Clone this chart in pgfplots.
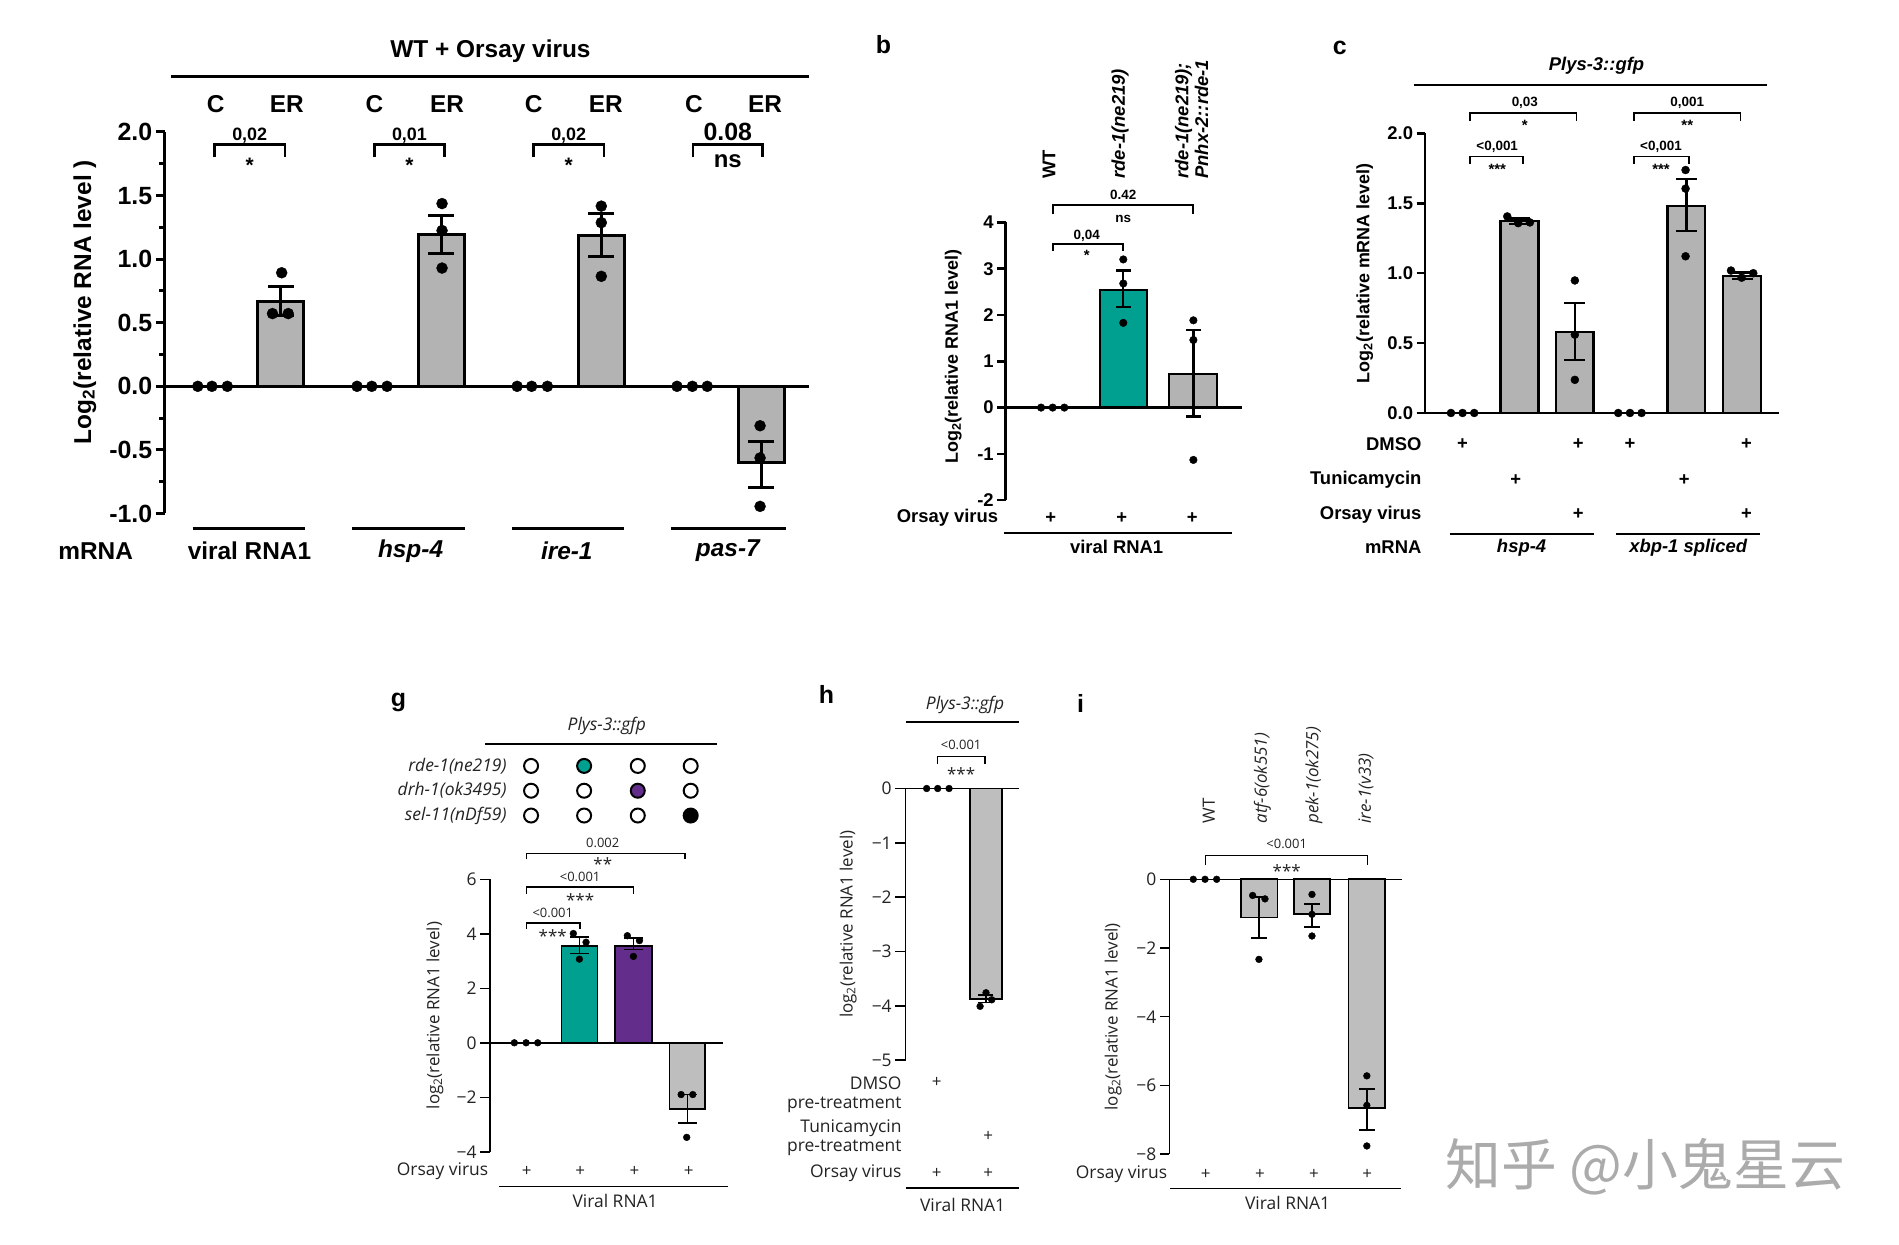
\documentclass[border=0pt]{standalone}
\usepackage{fontspec}
\setmainfont{Liberation Sans}
\newfontfamily\nat{Open Sans}
\newfontfamily\cjk{Noto Sans CJK SC}
\usepackage{pgfplots}
\pgfplotsset{compat=1.18}
\definecolor{barA}{RGB}{179,179,179}
\definecolor{barG}{RGB}{190,190,190}
\definecolor{tealc}{RGB}{0,160,145}
\definecolor{purp}{RGB}{99,45,140}
\definecolor{txt}{RGB}{35,35,35}
\newcommand\fs[1]{\fontsize{#1}{#1}\selectfont}
\newcommand\brk[5]{\draw[line width=#5] (#1,#4) -- (#1,#3) -- (#2,#3) -- (#2,#4);}
\pgfplotsset{panel/.style={anchor=south west, scale only axis, clip=false,
  axis x line=none, axis y line=left, axis line style={-}, xtick=\empty,
  tick align=outside, minor tick num=0}}
\begin{document}
\begin{tikzpicture}
\useasboundingbox (0,0) rectangle (1899bp,1245bp);
\fill[white] (0,0) rectangle (1899bp,1245bp);

%% ---------------- panel a
\begin{axis}[panel, at={(164.7bp,731.5bp)}, width=644.3bp, height=381.5bp,
 xmin=136, xmax=668, ymin=-1, ymax=2,
 y axis line style={-, line width=3.2bp},
 ytick={-1,-0.5,0,0.5,1,1.5,2}, yticklabels={-1.0,-0.5,0.0,0.5,1.0,1.5,2.0},
 minor ytick={-0.75,-0.25,0.25,0.75,1.25,1.75},
 major tick length=9bp, minor tick length=5.5bp,
 every tick/.style={black, line width=3bp},
 yticklabel style={font=\fs{25}\bfseries}]
\draw[line width=3.2bp] (136,0) -- (668,0);
\addplot[ybar, bar width=38, bar shift=0, fill=barA, draw=black, line width=3bp]
 coordinates {(232,0.67) (364.3,1.194) (496.5,1.186) (628.7,-0.6)};
\addplot[black, line width=3bp, mark=-, mark size=13bp] coordinates {(232,0.554) (232,0.786)};
\addplot[black, line width=3bp, mark=-, mark size=13bp] coordinates {(364.3,1.048) (364.3,1.346)};
\addplot[black, line width=3bp, mark=-, mark size=13bp] coordinates {(496.5,1.023) (496.5,1.358)};
\addplot[black, line width=3bp, mark=-, mark size=13bp] coordinates {(628.7,-0.431) (628.7,-0.794)};
\addplot[only marks, mark=*, mark size=5.5bp, black] coordinates {
 (163.3,0) (175,0) (187.7,0) (294.8,0) (307,0) (319.6,0)
 (427,0) (439,0) (452,0) (559,0) (571.7,0) (584,0)
 (232.6,0.893) (225,0.572) (238,0.572)
 (365,1.437) (365,1.225) (365,0.93)
 (496.5,1.417) (496.5,1.287) (496.5,0.865)
 (627.6,-0.31) (627.6,-0.563) (627.6,-0.944)};
\node[font=\fs{24.5}\bfseries] at (405,2.634) {WT + Orsay virus};
\draw[line width=2.5bp] (141.5,2.437) -- (668,2.437);
\node[font=\fs{24.5}\bfseries] at (178,2.22) {C};
\node[font=\fs{24.5}\bfseries] at (236.8,2.22) {ER};
\node[font=\fs{24.5}\bfseries] at (309.1,2.22) {C};
\node[font=\fs{24.5}\bfseries] at (369.2,2.22) {ER};
\node[font=\fs{24.5}\bfseries] at (440.6,2.22) {C};
\node[font=\fs{24.5}\bfseries] at (500.3,2.22) {ER};
\node[font=\fs{24.5}\bfseries] at (573,2.22) {C};
\node[font=\fs{24.5}\bfseries] at (631.8,2.22) {ER};
\brk{177.2}{235.2}{1.90}{1.80}{2.5bp}
\brk{309.1}{367.1}{1.90}{1.80}{2.5bp}
\brk{440.6}{498.6}{1.90}{1.80}{2.5bp}
\brk{572.1}{629.7}{1.90}{1.80}{2.5bp}
\node[font=\fs{18}\bfseries] at (206.2,1.97) {0,02};
\node[font=\fs{21}\bfseries] at (206.2,1.74) {*};
\node[font=\fs{18}\bfseries] at (338.1,1.97) {0,01};
\node[font=\fs{21}\bfseries] at (338.1,1.74) {*};
\node[font=\fs{18}\bfseries] at (469.6,1.97) {0,02};
\node[font=\fs{21}\bfseries] at (469.6,1.74) {*};
\node[font=\fs{25}\bfseries] at (600.9,2.0) {0.08};
\node[font=\fs{24}\bfseries] at (600.9,1.77) {ns};
\draw[line width=2.5bp] (159,-1.118) -- (251.5,-1.118);
\draw[line width=2.5bp] (290.6,-1.118) -- (383.9,-1.118);
\draw[line width=2.5bp] (423,-1.118) -- (515,-1.118);
\draw[line width=2.5bp] (554,-1.118) -- (648.6,-1.118);
\node[font=\fs{24.5}\bfseries] at (79,-1.296) {mRNA};
\node[font=\fs{24.5}\bfseries] at (206,-1.296) {viral RNA1};
\node[font=\fs{24.5}\bfseries\itshape] at (339,-1.296) {hsp-4};
\node[font=\fs{24.5}\bfseries\itshape] at (468,-1.296) {ire-1};
\node[font=\fs{24.5}\bfseries\itshape] at (601,-1.296) {pas-7};
\node[rotate=90, font=\fs{24.5}\bfseries] at (70,0.662) {Log\textsubscript{2}(relative RNA level )};
\end{axis}

%% ---------------- panel b
\begin{axis}[panel, at={(1005.7bp,744.8bp)}, width=236.0bp, height=277.8bp,
 xmin=830.4, xmax=1025.3, ymin=-2, ymax=4,
 y axis line style={-, line width=2.5bp},
 ytick={-2,-1,0,1,2,3,4}, yticklabels={-2,-1,0,1,2,3,4},
 major tick length=8.5bp, every tick/.style={black, line width=2.5bp},
 yticklabel style={font=\fs{18.5}\bfseries}]
\draw[line width=2.5bp] (830.4,0) -- (1025.3,0);
\addplot[ybar, bar width=39.1, bar shift=0, fill=tealc, draw=black, line width=2.3bp]
 coordinates {(927.8,2.546)};
\addplot[ybar, bar width=39.4, bar shift=0, fill=barA, draw=black, line width=2.3bp]
 coordinates {(985.2,0.73)};
\addplot[black, line width=2.3bp, mark=-, mark size=7.5bp] coordinates {(927.5,2.18) (927.5,2.96)};
\addplot[black, line width=2.3bp, mark=-, mark size=7.5bp] coordinates {(985.4,-0.19) (985.4,1.67)};
\addplot[only marks, mark=*, mark size=3.8bp, black] coordinates {
 (859.6,0) (869.2,0) (878.8,0)
 (927.5,3.2) (927.5,2.68) (927.5,1.83)
 (985.4,1.885) (985.4,1.46) (985.4,-1.13)};
\node[font=\fs{25}\bfseries] at (729.4,7.83) {b};
\node[rotate=90, anchor=west, font=\fs{18.5}\bfseries] at (866.2,4.87) {WT};
\node[rotate=90, anchor=west, font=\fs{18.5}\bfseries\itshape] at (924.8,4.87) {rde-1(ne219)};
\node[rotate=90, anchor=west, align=left, font=\fontsize{18.5}{20}\selectfont\bfseries\itshape] at (984,4.87) {rde-1(ne219);\\Pnhx-2::rde-1};
\brk{869.2}{985.4}{4.37}{4.18}{1.8bp}
\brk{869.2}{927.5}{3.54}{3.38}{1.8bp}
\node[font=\fs{13.5}\bfseries] at (927.5,4.6) {0.42};
\node[font=\fs{13.5}\bfseries] at (927.5,4.08) {ns};
\node[font=\fs{13.5}\bfseries] at (897.3,3.715) {0,04};
\node[font=\fs{15}\bfseries] at (897.3,3.28) {*};
\node[anchor=east, font=\fs{18.5}\bfseries] at (827.1,-2.385) {Orsay virus};
\node[font=\fs{18.5}\bfseries] at (867.5,-2.385) {+};
\node[font=\fs{18.5}\bfseries] at (926.2,-2.385) {+};
\node[font=\fs{18.5}\bfseries] at (984.5,-2.385) {+};
\draw[line width=1.5bp] (829,-2.71) -- (1017,-2.71);
\node[font=\fs{18.5}\bfseries] at (922,-3.0) {viral RNA1};
\node[rotate=90, font=\fs{18}\bfseries] at (787.2,1.1) {Log\textsubscript{2}(relative RNA1 level)};
\end{axis}

%% ---------------- panel c
\begin{axis}[panel, at={(1424.9bp,832.0bp)}, width=354.4bp, height=279.6bp,
 xmin=1176.5, xmax=1469.1, ymin=0, ymax=2,
 y axis line style={-, line width=2.5bp},
 ytick={0,0.5,1,1.5,2}, yticklabels={0.0,0.5,1.0,1.5,2.0},
 major tick length=8.3bp, every tick/.style={black, line width=2.5bp},
 yticklabel style={font=\fs{18.5}\bfseries}]
\draw[line width=2.5bp] (1176.5,0) -- (1469.1,0);
\addplot[ybar, bar width=31.2, bar shift=0, fill=barA, draw=black, line width=2.3bp]
 coordinates {(1254.6,1.371) (1300.2,0.578) (1392.4,1.483) (1438.3,0.978)};
\addplot[black, line width=2.3bp, mark=-, mark size=10.5bp] coordinates {(1254.6,1.35) (1254.6,1.392)};
\addplot[black, line width=2.3bp, mark=-, mark size=10.5bp] coordinates {(1300.2,0.38) (1300.2,0.787)};
\addplot[black, line width=2.3bp, mark=-, mark size=10.5bp] coordinates {(1392.4,1.30) (1392.4,1.676)};
\addplot[black, line width=2.3bp, mark=-, mark size=10.5bp] coordinates {(1438.3,0.96) (1438.3,1.004)};
\addplot[only marks, mark=*, mark size=4bp, black] coordinates {
 (1198,0) (1207.6,0) (1217.2,0) (1336.1,0) (1345.8,0) (1355.4,0)
 (1244.5,1.406) (1253.5,1.358) (1263.2,1.363)
 (1300.3,0.948) (1300.3,0.56) (1300.3,0.237)
 (1391.7,1.738) (1391.7,1.605) (1391.7,1.121)
 (1429.2,1.019) (1438,0.968) (1447.6,1.0)};
\node[font=\fs{25}\bfseries] at (1106.3,2.61) {c};
\node[font=\fs{18.5}\bfseries\itshape] at (1318.2,2.484) {Plys-3::gfp};
\draw[line width=2bp] (1167.4,2.349) -- (1459.2,2.349);
\brk{1213.6}{1301.7}{2.145}{2.09}{1.8bp}
\brk{1349.3}{1437.1}{2.145}{2.09}{1.8bp}
\brk{1213.6}{1257.7}{1.834}{1.78}{1.8bp}
\brk{1349.3}{1394.5}{1.834}{1.78}{1.8bp}
\node[font=\fs{13.5}\bfseries] at (1259,2.22) {0,03};
\node[font=\fs{15}\bfseries] at (1259,2.055) {*};
\node[font=\fs{13.5}\bfseries] at (1393.1,2.22) {0,001};
\node[font=\fs{15}\bfseries] at (1393.1,2.055) {**};
\node[font=\fs{13.5}\bfseries] at (1236.2,1.906) {<0,001};
\node[font=\fs{15}\bfseries] at (1236.2,1.745) {***};
\node[font=\fs{13.5}\bfseries] at (1371.4,1.906) {<0,001};
\node[font=\fs{15}\bfseries] at (1371.4,1.745) {***};
\node[anchor=east, font=\fs{18.5}\bfseries] at (1176.5,-0.224) {DMSO};
\node[anchor=east, font=\fs{18.5}\bfseries] at (1176.5,-0.479) {Tunicamycin};
\node[anchor=east, font=\fs{18.5}\bfseries] at (1176.5,-0.726) {Orsay virus};
\node[anchor=east, font=\fs{18.5}\bfseries] at (1176.5,-0.963) {mRNA};
\node[font=\fs{18.5}\bfseries] at (1207.6,-0.224) {+};
\node[font=\fs{18.5}\bfseries] at (1303.1,-0.224) {+};
\node[font=\fs{18.5}\bfseries] at (1345.8,-0.224) {+};
\node[font=\fs{18.5}\bfseries] at (1442.1,-0.224) {+};
\node[font=\fs{18.5}\bfseries] at (1251.6,-0.479) {+};
\node[font=\fs{18.5}\bfseries] at (1390.6,-0.479) {+};
\node[font=\fs{18.5}\bfseries] at (1303.1,-0.726) {+};
\node[font=\fs{18.5}\bfseries] at (1442.1,-0.726) {+};
\draw[line width=1.5bp] (1197.1,-0.866) -- (1316,-0.866);
\draw[line width=1.5bp] (1334.2,-0.866) -- (1453.1,-0.866);
\node[font=\fs{18.5}\bfseries\itshape] at (1256.3,-0.963) {hsp-4};
\node[font=\fs{18.5}\bfseries\itshape] at (1393.9,-0.963) {xbp-1 spliced};
\node[rotate=90, font=\fs{18}\bfseries] at (1126.9,1.0) {Log\textsubscript{2}(relative mRNA level)};
\end{axis}

%% ---------------- panel g
\begin{axis}[panel, at={(490.0bp,93.2bp)}, width=232.8bp, height=272.5bp,
 xmin=404.6, xmax=596.8, ymin=-4, ymax=6,
 y axis line style={-, line width=1.5bp},
 ytick={-4,-2,0,2,4,6}, yticklabels={−4,−2,0,2,4,6},
 major tick length=10bp, every tick/.style={black, line width=1.5bp},
 yticklabel style={font=\nat\fs{17.5}, text=txt}]
\draw[line width=1.5bp] (404.6,0) -- (596.8,0);
\addplot[ybar, bar width=29.5, bar shift=0, fill=tealc, draw=black, line width=1.6bp] coordinates {(478.5,3.56)};
\addplot[ybar, bar width=30.2, bar shift=0, fill=purp, draw=black, line width=1.6bp] coordinates {(523,3.56)};
\addplot[ybar, bar width=29.5, bar shift=0, fill=barG, draw=black, line width=1.6bp] coordinates {(567.5,-2.42)};
\addplot[black, line width=1.6bp, mark=-, mark size=9.5bp] coordinates {(478.5,3.27) (478.5,3.88)};
\addplot[black, line width=1.6bp, mark=-, mark size=9.5bp] coordinates {(523,3.43) (523,3.84)};
\addplot[black, line width=1.6bp, mark=-, mark size=9.5bp] coordinates {(567.5,-1.89) (567.5,-2.95)};
\addplot[only marks, mark=*, mark size=3.4bp, black] coordinates {
 (424.7,0) (434.4,0) (444,0)
 (473.4,4.01) (483.9,3.69) (478.4,3.07)
 (518,3.93) (528,3.75) (523,3.17)
 (562.4,-1.9) (572,-1.9) (567,-3.47)};
\addplot[only marks, mark=*, mark size=7bp, mark options={draw=black, fill=white, line width=2bp}] coordinates {
 (438.5,10.16) (526.6,10.16) (570.3,10.16)
 (438.5,9.25) (482.3,9.25) (570.3,9.25)
 (438.5,8.34) (482.3,8.34) (526.6,8.34)};
\addplot[only marks, mark=*, mark size=7bp, mark options={draw=black, fill=tealc, line width=2bp}] coordinates {(482.3,10.16)};
\addplot[only marks, mark=*, mark size=7bp, mark options={draw=black, fill=purp, line width=2bp}] coordinates {(526.6,9.25)};
\addplot[only marks, mark=*, mark size=7bp, mark options={draw=black, fill=black, line width=2bp}] coordinates {(570.3,8.34)};
\node[font=\fs{25}\bfseries] at (329,12.48) {g};
\node[font=\nat\fs{17.5}\itshape, text=txt] at (501,11.64) {Plys-3::gfp};
\draw[line width=1.5bp] (400.5,10.97) -- (592.4,10.97);
\node[anchor=east, font=\nat\fs{17.5}\itshape, text=txt] at (421.1,10.16) {rde-1(ne219)};
\node[anchor=east, font=\nat\fs{17.5}\itshape, text=txt] at (421.1,9.25) {drh-1(ok3495)};
\node[anchor=east, font=\nat\fs{17.5}\itshape, text=txt] at (421.1,8.34) {sel-11(nDf59)};
\brk{434.9}{565.7}{6.95}{6.73}{1.5bp}
\brk{434.9}{523}{5.72}{5.47}{1.5bp}
\brk{434.9}{479}{4.40}{4.17}{1.5bp}
\node[font=\nat\fs{13}, text=txt] at (497.7,7.35) {0.002};
\node[font=\nat\fs{17}, text=txt] at (497.7,6.55) {**};
\node[font=\nat\fs{13}, text=txt] at (479,6.1) {<0.001};
\node[font=\nat\fs{17}, text=txt] at (479,5.25) {***};
\node[font=\nat\fs{13}, text=txt] at (456.4,4.75) {<0.001};
\node[font=\nat\fs{17}, text=txt] at (456.4,3.93) {***};
\node[anchor=east, font=\nat\fs{17.5}, text=txt] at (406,-4.72) {Orsay virus};
\node[font=\nat\fs{17}, text=txt] at (434.9,-4.72) {+};
\node[font=\nat\fs{17}, text=txt] at (479,-4.72) {+};
\node[font=\nat\fs{17}, text=txt] at (523.8,-4.72) {+};
\node[font=\nat\fs{17}, text=txt] at (568.7,-4.72) {+};
\draw[line width=1.5bp] (412.1,-5.28) -- (601.4,-5.28);
\node[font=\nat\fs{17.5}, text=txt] at (507.9,-5.82) {Viral RNA1};
\node[rotate=90, font=\nat\fs{17}, text=txt] at (359.2,1.0) {log\textsubscript{2}(relative RNA1 level)};
\end{axis}

%% ---------------- panel h
\begin{axis}[panel, at={(905.7bp,184.9bp)}, width=113.4bp, height=271.6bp,
 xmin=747.8, xmax=841.4, ymin=-5, ymax=0,
 y axis line style={-, line width=1.5bp},
 ytick={-5,-4,-3,-2,-1,0}, yticklabels={−5,−4,−3,−2,−1,0},
 major tick length=10.5bp, every tick/.style={black, line width=1.5bp},
 yticklabel style={font=\nat\fs{17.5}, text=txt}]
\draw[line width=1.5bp] (747.8,0) -- (841.4,0);
\addplot[ybar, bar width=26.1, bar shift=0, fill=barG, draw=black, line width=1.6bp] coordinates {(814,-3.87)};
\addplot[black, line width=1.6bp, mark=-, mark size=7.5bp] coordinates {(814,-3.80) (814,-3.94)};
\addplot[only marks, mark=*, mark size=3.4bp, black] coordinates {
 (765.1,0) (774.2,0) (783.6,0)
 (809.2,-4.01) (814.1,-3.76) (818.8,-3.89)};
\node[font=\fs{25}\bfseries] at (682.5,1.73) {h};
\node[font=\nat\fs{17.5}\itshape, text=txt] at (796.8,1.53) {Plys-3::gfp};
\draw[line width=1.5bp] (747.8,1.22) -- (841.4,1.22);
\brk{773.9}{813.3}{0.587}{0.455}{1.5bp}
\node[font=\nat\fs{13}, text=txt] at (793.5,0.80) {<0.001};
\node[font=\nat\fs{17}, text=txt] at (793.5,0.27) {***};
\node[anchor=east, font=\nat\fs{17.5}, text=txt] at (747.2,-5.42) {DMSO};
\node[anchor=east, font=\nat\fs{17.5}, text=txt] at (747.2,-5.82) {pre-treatment};
\node[anchor=east, font=\nat\fs{17.5}, text=txt] at (747.2,-6.25) {Tunicamycin};
\node[anchor=east, font=\nat\fs{17.5}, text=txt] at (747.2,-6.62) {pre-treatment};
\node[anchor=east, font=\nat\fs{17.5}, text=txt] at (747.2,-7.08) {Orsay virus};
\node[font=\nat\fs{17}, text=txt] at (773.4,-5.42) {+};
\node[font=\nat\fs{17}, text=txt] at (816,-6.40) {+};
\node[font=\nat\fs{17}, text=txt] at (773.4,-7.08) {+};
\node[font=\nat\fs{17}, text=txt] at (816,-7.08) {+};
\draw[line width=1.5bp] (747.8,-7.35) -- (841.4,-7.35);
\node[font=\nat\fs{17.5}, text=txt] at (794.8,-7.67) {Viral RNA1};
\node[rotate=90, font=\nat\fs{17}, text=txt] at (700.4,-2.5) {log\textsubscript{2}(relative RNA1 level)};
\end{axis}

%% ---------------- panel i
\begin{axis}[panel, at={(1169.3bp,90.8bp)}, width=232.3bp, height=274.9bp,
 xmin=965.5, xmax=1157.3, ymin=-8, ymax=0,
 y axis line style={-, line width=1.5bp},
 ytick={-8,-6,-4,-2,0}, yticklabels={−8,−6,−4,−2,0},
 major tick length=9.5bp, every tick/.style={black, line width=1.5bp},
 yticklabel style={font=\nat\fs{17.5}, text=txt}]
\draw[line width=1.5bp] (965.5,0) -- (1157.3,0);
\addplot[ybar, bar width=30, bar shift=0, fill=barG, draw=black, line width=1.6bp]
 coordinates {(1039.7,-1.11) (1083.3,-1.01) (1128.6,-6.65)};
\addplot[black, line width=1.6bp, mark=-, mark size=8bp] coordinates {(1039.7,-0.52) (1039.7,-1.70)};
\addplot[black, line width=1.6bp, mark=-, mark size=8bp] coordinates {(1083.3,-0.72) (1083.3,-1.39)};
\addplot[black, line width=1.6bp, mark=-, mark size=8bp] coordinates {(1128.6,-6.11) (1128.6,-7.30)};
\addplot[only marks, mark=*, mark size=3.4bp, black] coordinates {
 (985.3,0) (995,0) (1004.6,0)
 (1034.3,-0.47) (1044.5,-0.57) (1039.5,-2.33)
 (1083.3,-0.44) (1083.3,-1.02) (1083.3,-1.65)
 (1128.6,-5.72) (1128.6,-6.58) (1128.6,-7.76)};
\node[font=\fs{25}\bfseries] at (892.3,5.12) {i};
\node[rotate=90, anchor=west, font=\nat\fs{17}, text=txt] at (998.2,1.52) {WT};
\node[rotate=90, anchor=west, font=\nat\fs{17}\itshape, text=txt] at (1042.3,1.52) {atf-6(ok551)};
\node[rotate=90, anchor=west, font=\nat\fs{17}\itshape, text=txt] at (1085,1.52) {pek-1(ok275)};
\node[rotate=90, anchor=west, font=\nat\fs{17}\itshape, text=txt] at (1127.9,1.52) {ire-1(v33)};
\brk{995.5}{1129}{0.69}{0.43}{1.5bp}
\node[font=\nat\fs{13}, text=txt] at (1062.4,1.03) {<0.001};
\node[font=\nat\fs{17}, text=txt] at (1062.4,0.25) {***};
\node[anchor=east, font=\nat\fs{17.5}, text=txt] at (966.6,-8.59) {Orsay virus};
\node[font=\nat\fs{17}, text=txt] at (995.5,-8.59) {+};
\node[font=\nat\fs{17}, text=txt] at (1040.4,-8.59) {+};
\node[font=\nat\fs{17}, text=txt] at (1085,-8.59) {+};
\node[font=\nat\fs{17}, text=txt] at (1129,-8.59) {+};
\draw[line width=1.5bp] (966,-9.0) -- (1156.5,-9.0);
\node[font=\nat\fs{17.5}, text=txt] at (1063.2,-9.41) {Viral RNA1};
\node[rotate=90, font=\nat\fs{17}, text=txt] at (919.2,-4.0) {log\textsubscript{2}(relative RNA1 level)};
\end{axis}

\node[text=black!33, font=\cjk\fs{56}] at (1645.3bp,78bp) {知乎 @小鬼星云};
\end{tikzpicture}
\end{document}
